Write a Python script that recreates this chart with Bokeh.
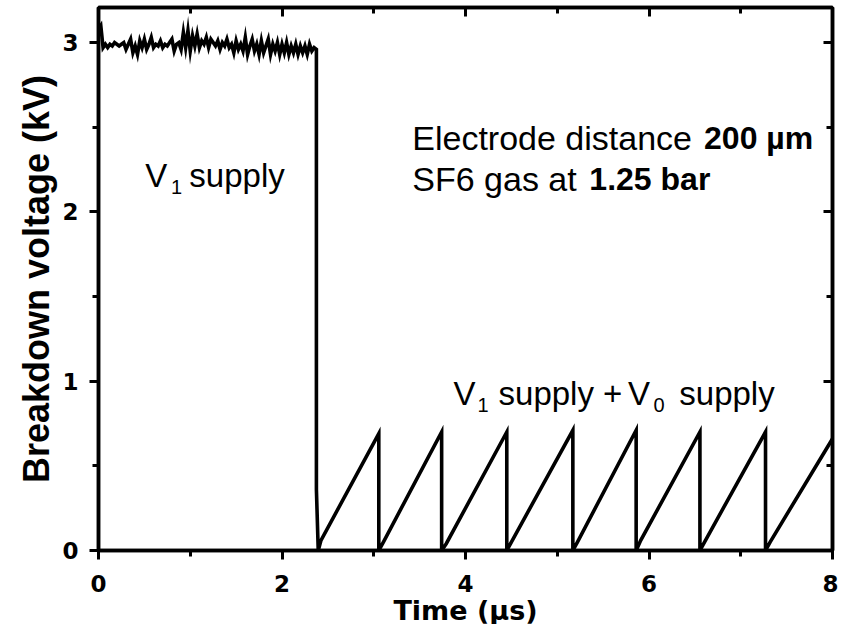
from bokeh.plotting import figure
from bokeh.models import Range1d, LinearAxis, FixedTicker, Label
from bokeh.embed import file_html
from bokeh.resources import INLINE

# ---------------- data ----------------
# V1 supply only: noisy breakdown voltage (kV), sampled every noise_dt microseconds from t=0
noise_dt = 0.025
noise_v = [3.08, 3.10, 2.97, 2.99, 2.97, 2.99, 2.98, 3.00, 2.99, 2.98,
           2.99, 3.00, 2.96, 2.99, 3.02, 2.94, 2.98, 2.93, 3.01, 2.97,
           3.02, 2.96, 2.99, 3.03, 2.97, 2.99, 2.98, 3.01, 2.97, 2.99,
           2.98, 3.00, 3.02, 2.95, 2.99, 3.00, 2.96, 3.06, 2.97, 3.07,
           2.95, 3.04, 2.98, 3.05, 2.97, 3.01, 2.99, 3.03, 2.97, 3.02,
           3.00, 2.98, 3.01, 2.96, 3.00, 2.98, 3.02, 2.97, 2.99, 2.94,
           3.01, 2.96, 2.99, 2.95, 3.03, 2.93, 2.98, 3.02, 2.95, 2.99,
           2.93, 3.01, 2.94, 2.98, 3.02, 2.93, 2.99, 2.95, 3.00, 2.93,
           2.99, 2.94, 3.00, 2.93, 2.98, 2.94, 2.99, 2.93, 2.98, 2.94,
           2.98, 2.93, 2.99, 2.95, 2.97, 2.96]
switch_t = 2.375      # V0 supply switched on (us)
knee_v = 0.36         # kink on the falling edge (kV)
foot_dt = 0.05        # short foot after each reset (us)
# V1 + V0 supply: sawtooth
reset_t = [3.055, 3.74, 4.45, 5.17, 5.86, 6.555, 7.27]
peak_v = [0.69, 0.70, 0.70, 0.71, 0.71, 0.70, 0.70]
trough_v = [0.06, 0.05, 0.04, 0.05, 0.05, 0.06, 0.05, 0.05]
end_t = 8.0
end_v = 0.66

x_ticks = [0, 2, 4, 6, 8]
x_minor = [1, 3, 5, 7]
y_ticks = [0, 1, 2, 3]
y_minor = [0.5, 1.5, 2.5]

# ------------- build the trace -------------
xs = [i * noise_dt for i in range(len(noise_v))]
ys = list(noise_v)
xs += [switch_t, switch_t, switch_t + foot_dt * 0.4]
ys += [noise_v[-1], knee_v, 0.0]
starts = [switch_t] + reset_t
ends = reset_t + [end_t]
tops = peak_v + [end_v]
for i in range(len(starts)):
    xs.append(starts[i] + foot_dt)
    ys.append(trough_v[i])
    xs.append(ends[i])
    ys.append(tops[i])
    if i < len(reset_t):
        xs.append(ends[i])
        ys.append(0.0)

# ------------- figure -------------
p = figure(frame_width=734, frame_height=543,
           x_range=Range1d(0, 8), y_range=Range1d(0, 3.207),
           output_backend="svg", toolbar_location=None,
           min_border_left=98, min_border_right=6,
           min_border_top=7, min_border_bottom=70)
p.background_fill_color = "white"
p.border_fill_color = "white"
p.xgrid.visible = False
p.ygrid.visible = False
p.outline_line_color = "black"
p.outline_line_width = 3.5

p.line(xs, ys, line_color="black", line_width=3.6, line_join="miter")

xt = FixedTicker(ticks=x_ticks, minor_ticks=x_minor)
yt = FixedTicker(ticks=y_ticks, minor_ticks=y_minor)
p.xaxis.ticker = xt
p.yaxis.ticker = yt

for ax in (p.xaxis[0], p.yaxis[0]):
    ax.axis_line_width = 3.5
    ax.major_tick_line_width = 3
    ax.minor_tick_line_width = 3
    ax.major_tick_out = 9
    ax.major_tick_in = 0
    ax.minor_tick_out = 6
    ax.minor_tick_in = 0
    ax.major_label_text_font = "DejaVu Sans"
    ax.major_label_text_font_style = "bold"
    ax.major_label_text_font_size = "23px"
    ax.major_label_text_color = "black"
    ax.axis_label_text_font_style = "bold"
    ax.axis_label_text_color = "black"

p.xaxis.major_label_standoff = 15
p.yaxis.major_label_standoff = 11
p.xaxis.axis_label = "Time (µs)"
p.xaxis.axis_label_text_font = "DejaVu Sans"
p.xaxis.axis_label_text_font_size = "27px"
p.xaxis.axis_label_standoff = 0
p.yaxis.axis_label = "Breakdown voltage (kV)"
p.yaxis.axis_label_text_font = "Liberation Sans"
p.yaxis.axis_label_text_font_size = "36px"
p.yaxis.axis_label_standoff = 2

for loc, tk, tks in (("right", yt, y_ticks), ("above", xt, x_ticks)):
    ax = LinearAxis(ticker=tk, major_label_text_font_size="1px",
                    major_label_overrides={t: "" for t in tks},
                    major_label_standoff=0, axis_line_width=3.5,
                    major_tick_in=9, major_tick_out=0,
                    minor_tick_in=6, minor_tick_out=0,
                    major_tick_line_width=3, minor_tick_line_width=3)
    p.add_layout(ax, loc)

def lab(x, y, text, size, bold=False):
    p.add_layout(Label(x=x, y=y, text=text, text_font="Liberation Sans",
                       text_font_size=size, text_color="black",
                       text_font_style="bold" if bold else "normal",
                       text_baseline="alphabetic", text_align="left"))

lab(0.51, 2.215, "V", "33px")
lab(0.79, 2.144, "1", "20px")
lab(0.99, 2.215, "supply", "33px")

lab(3.42, 2.434, "Electrode distance", "34px")
lab(6.60, 2.434, "200 µm", "32px", True)
lab(3.42, 2.197, "SF6 gas at", "34px")
lab(5.35, 2.197, "1.25 bar", "32px", True)

lab(3.87, 0.927, "V", "33px")
lab(4.13, 0.857, "1", "20px")
lab(4.36, 0.927, "supply +", "33px")
lab(5.77, 0.927, "V", "33px")
lab(6.05, 0.857, "0", "20px")
lab(6.33, 0.927, "supply", "33px")

open("out.html", "w").write(file_html(p, INLINE))
